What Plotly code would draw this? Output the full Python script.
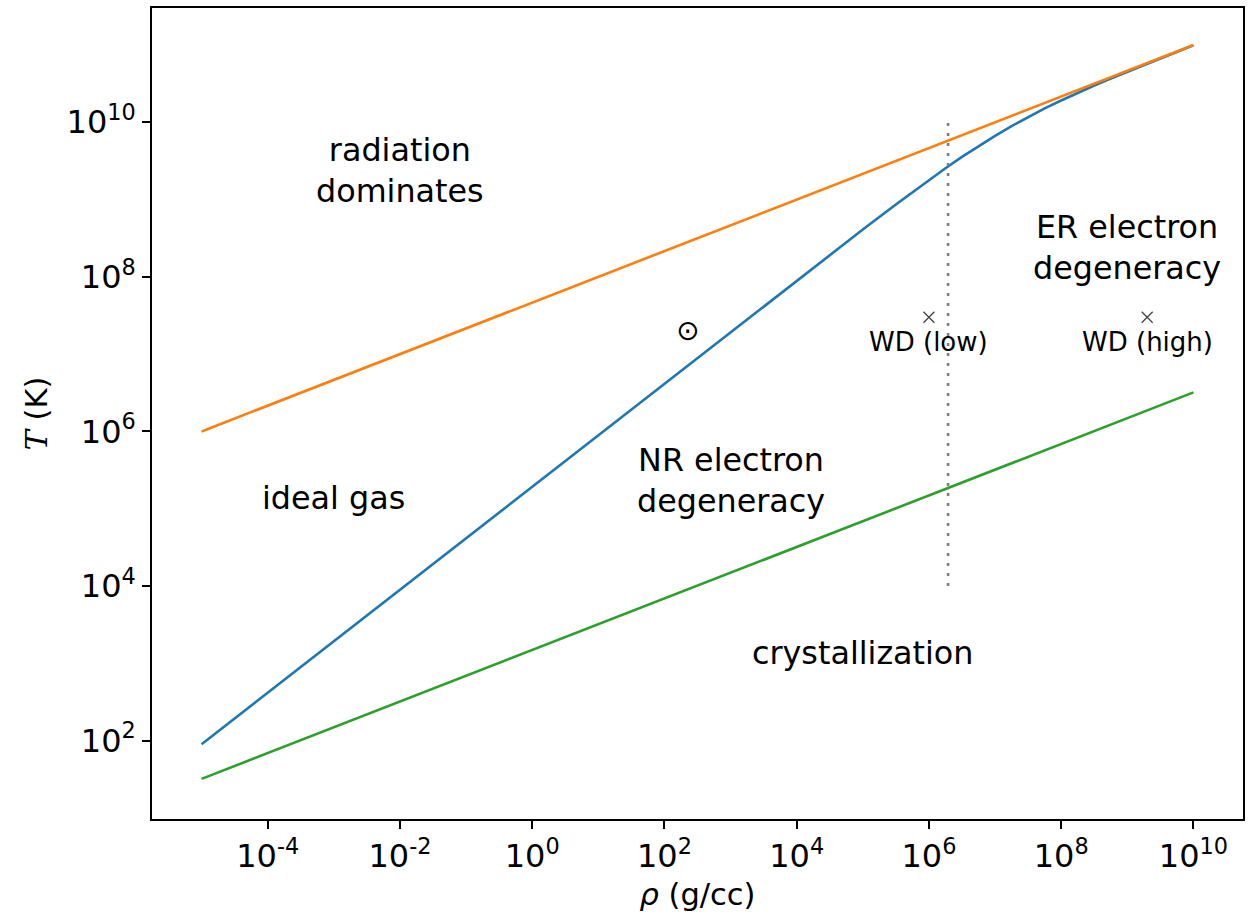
import math
import plotly.graph_objects as go

# Density (g/cc) and temperature (K) along each boundary
rho_rad = [1e-5, 1e10]
T_rad = [1e6, 1e11]

rho_deg = [1e-5, 1e-3, 1e-1, 1e1, 1.6e2, 1e3, 1e4, 3.16e4, 1e5, 3.16e5, 1e6,
           1.78e6, 3.16e6, 5.62e6, 1e7, 1.78e7, 3.16e7, 5.62e7, 1e8, 1.78e8,
           3.16e8, 5.62e8, 1e9, 1.78e9, 3.16e9, 5.62e9, 1e10]
T_deg = [90, 1.94e3, 4.17e4, 8.97e5, 5.71e6, 1.94e7, 8.95e7, 1.92e8, 4.09e8, 8.65e8,
         1.79e9, 2.54e9, 3.56e9, 4.92e9, 6.68e9, 8.93e9, 1.17e10, 1.51e10, 1.91e10,
         2.40e10, 2.99e10, 3.68e10, 4.51e10, 5.52e10, 6.73e10, 8.18e10, 9.93e10]

rho_cryst = [1e-5, 1e10]
T_cryst = [32, 3.2e6]

# Relativity boundary (x = p_F / m_e c = 1)
rho_rel = 1.95e6
T_rel_span = [1e4, 1e10]

# Reference objects
sun_rho, sun_T = 221, 2.04e7
wd_rho = [1e6, 2e9]
wd_T = [3e7, 3e7]
wd_names = ["WD (low)", "WD (high)"]

x_tickvals = [1e-4, 1e-2, 1e0, 1e2, 1e4, 1e6, 1e8, 1e10]
x_ticktext = ["10<sup>-4</sup>", "10<sup>-2</sup>", "10<sup>0</sup>", "10<sup>2</sup>",
              "10<sup>4</sup>", "10<sup>6</sup>", "10<sup>8</sup>", "10<sup>10</sup>"]
y_tickvals = [1e2, 1e4, 1e6, 1e8, 1e10]
y_ticktext = ["10<sup>2</sup>", "10<sup>4</sup>", "10<sup>6</sup>", "10<sup>8</sup>", "10<sup>10</sup>"]

# Region labels: (text, rho, T)
region_labels = [
    ("radiation<br>dominates", 1e-2, 10**9.38),
    ("ideal gas", 1e-3, 10**5.15),
    ("NR electron<br>degeneracy", 1e3, 10**5.37),
    ("ER electron<br>degeneracy", 1e9, 10**8.38),
    ("crystallization", 1e5, 10**3.14),
]

FONT = "DejaVu Sans"
BLUE, ORANGE, GREEN = "#1f77b4", "#ff7f0e", "#2ca02c"

fig = go.Figure()
fig.add_trace(go.Scatter(x=rho_deg, y=T_deg, mode="lines",
                         line=dict(color=BLUE, width=2.6), hoverinfo="skip"))
fig.add_trace(go.Scatter(x=rho_rad, y=T_rad, mode="lines",
                         line=dict(color=ORANGE, width=2.6), hoverinfo="skip"))
fig.add_trace(go.Scatter(x=rho_cryst, y=T_cryst, mode="lines",
                         line=dict(color=GREEN, width=2.6), hoverinfo="skip"))
fig.add_trace(go.Scatter(x=[rho_rel, rho_rel], y=T_rel_span, mode="lines",
                         line=dict(color="#808080", width=2.6, dash="3px,7px"),
                         hoverinfo="skip"))
fig.add_trace(go.Scatter(x=wd_rho, y=wd_T, mode="markers",
                         marker=dict(symbol="x-thin-open", size=11, color="#444444",
                                     line=dict(width=1.3, color="#444444")),
                         hoverinfo="skip"))

annotations = []
for text, r, t in region_labels:
    annotations.append(dict(x=math.log10(r), y=math.log10(t), xref="x", yref="y",
                            text=text, showarrow=False, xanchor="center", yanchor="middle",
                            font=dict(family=FONT, size=31.8, color="black")))
for name, r, t in zip(wd_names, wd_rho, wd_T):
    annotations.append(dict(x=math.log10(r), y=math.log10(t), xref="x", yref="y",
                            text=name, showarrow=False, xanchor="center", yanchor="top",
                            yshift=-8,
                            font=dict(family=FONT, size=26, color="black")))
annotations.append(dict(x=math.log10(sun_rho), y=math.log10(sun_T), xref="x", yref="y",
                        text="⊙", showarrow=False, xanchor="center", yanchor="middle",
                        font=dict(family=FONT, size=28, color="black")))

axis_common = dict(
    type="log", showgrid=False, zeroline=False,
    showline=True, linecolor="black", linewidth=1.6, mirror=True,
    ticks="outside", ticklen=8, tickwidth=1.6, tickcolor="black",
    tickfont=dict(family=FONT, size=32, color="black"),
)

fig.update_layout(
    width=1258, height=918,
    margin=dict(l=152, r=15, t=6, b=99),
    paper_bgcolor="white", plot_bgcolor="white",
    showlegend=False,
    annotations=annotations,
    xaxis=dict(axis_common, range=[-5.75, 10.75], tickvals=x_tickvals, ticktext=x_ticktext,
               title=dict(text="<i>ρ</i> (g/cc)", font=dict(family=FONT, size=30.5, color="black"),
                          standoff=9)),
    yaxis=dict(axis_common, range=[0.986, 11.478], tickvals=y_tickvals, ticktext=y_ticktext,
               title=dict(text="<span style='font-family:DejaVu Serif'><i>T</i></span> (K)",
                          font=dict(family=FONT, size=30.5, color="black"),
                          standoff=10)),
)

fig.write_html("out.html")
